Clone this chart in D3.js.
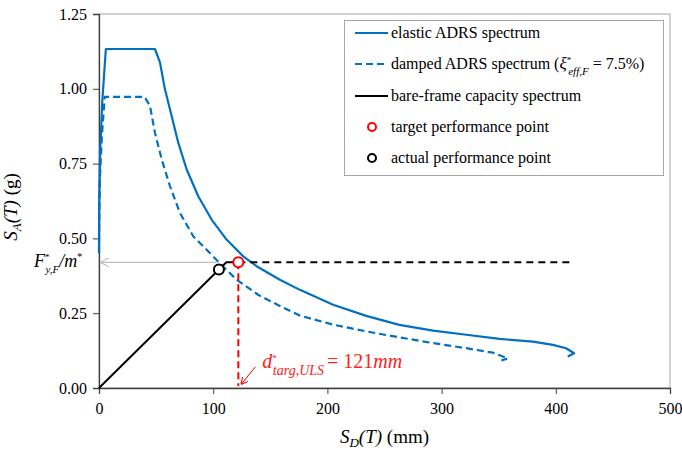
<!DOCTYPE html>
<html>
<head>
<meta charset="utf-8">
<script src="https://cdn.jsdelivr.net/npm/d3@7"></script>
<style>
  body { margin: 0; background: #fff; }
  text { font-family: "Liberation Serif", "Times New Roman", serif; }
</style>
</head>
<body>
<div class="canvas"></div>
<script>
// elastic ADRS spectrum (Sd in mm, Sa in g)
const elasticSd = [0, 0.2, 1.0, 2.9, 6, 49, 53.4, 57.7, 63.6, 69.4, 76.7, 86.9, 98.6, 111.7, 126.3, 138, 158.4, 175.9, 205, 234, 263, 292.5, 321.7, 350.8, 380, 397.5, 409, 416, 410.5];
const elasticSa = [0.45, 0.62, 0.79, 0.96, 1.133, 1.133, 1.088, 0.999, 0.909, 0.82, 0.731, 0.641, 0.563, 0.496, 0.44, 0.407, 0.362, 0.328, 0.278, 0.241, 0.211, 0.192, 0.178, 0.164, 0.155, 0.144, 0.133, 0.116, 0.105];

// damped ADRS spectrum
const dampedSd = [0, 0.2, 0.9, 2.5, 5, 40, 44.6, 49, 54.9, 62.1, 70.9, 82.5, 97.1, 108.7, 120.5, 140, 158, 176.7, 205.9, 234.2, 263.4, 292.6, 321.7, 345, 353.7, 358, 352.3];
const dampedSa = [0.45, 0.58, 0.71, 0.84, 0.973, 0.973, 0.943, 0.853, 0.764, 0.675, 0.585, 0.507, 0.451, 0.406, 0.362, 0.31, 0.275, 0.241, 0.211, 0.189, 0.169, 0.15, 0.133, 0.118, 0.105, 0.099, 0.092];

// bare-frame capacity spectrum
const capacitySd = [0, 111.5, 122];
const capacitySa = [0, 0.42, 0.42];

const targetPoint = [122, 0.42];
const actualPoint = [105, 0.396];
const demandLineEnd = 415;

const xTicks = [0, 100, 200, 300, 400, 500];
const yTicks = [0, 0.25, 0.5, 0.75, 1.0, 1.25];

const blue = "#0070c0";
const margin = { top: 14, right: 12, bottom: 62, left: 99 };
const width = 682 - margin.left - margin.right;
const height = 450 - margin.top - margin.bottom;

const svgRoot = d3
  .select(".canvas")
  .append("svg")
  .attr("width", 682)
  .attr("height", 450);

const defs = svgRoot.append("defs");
defs.append("marker")
  .attr("id", "grayArrow")
  .attr("viewBox", "0 0 10 10")
  .attr("refX", 9).attr("refY", 5)
  .attr("markerWidth", 9).attr("markerHeight", 9)
  .attr("markerUnits", "userSpaceOnUse")
  .attr("orient", "auto")
  .append("path")
  .attr("d", "M0,0 L10,5 L0,10")
  .attr("fill", "none")
  .attr("stroke", "#bfbfbf")
  .attr("stroke-width", 1.2);
defs.append("marker")
  .attr("id", "redArrow")
  .attr("viewBox", "0 0 10 10")
  .attr("refX", 9).attr("refY", 5)
  .attr("markerWidth", 7).attr("markerHeight", 7)
  .attr("markerUnits", "userSpaceOnUse")
  .attr("orient", "auto")
  .append("path")
  .attr("d", "M0,0 L10,5 L0,10")
  .attr("fill", "none")
  .attr("stroke", "red")
  .attr("stroke-width", 1.5);

const svg = svgRoot
  .append("g")
  .attr("transform", `translate(${margin.left},${margin.top})`);

const x = d3.scaleLinear().domain([0, 500]).range([0, width]);
const y = d3.scaleLinear().domain([0, 1.25]).range([height, 0]);

// frame (top and right)
svg.append("rect")
  .attr("width", width)
  .attr("height", height)
  .attr("fill", "none")
  .attr("stroke", "#a6a6a6")
  .attr("stroke-width", 1);

// axes
const xAxis = svg.append("g")
  .attr("transform", `translate(0, ${height})`)
  .call(d3.axisBottom(x).tickValues(xTicks).tickSize(6).tickPadding(9).tickFormat(d3.format("d")));
const yAxis = svg.append("g")
  .call(d3.axisLeft(y).tickValues(yTicks).tickSize(6).tickPadding(6).tickFormat(d3.format(".2f")));
[xAxis, yAxis].forEach((a) => {
  a.attr("font-family", null);
  a.select(".domain").attr("stroke", "#404040").attr("stroke-width", 1.3);
  a.selectAll(".tick line").attr("stroke", "#404040");
  a.selectAll(".tick text")
    .attr("font-size", 16)
    .attr("fill", "#000");
});

const line = d3.line().x((d) => x(d[0])).y((d) => y(d[1]));
const zip = (a, b) => a.map((v, i) => [v, b[i]]);

// gray arrow to Fy/m*
svg.append("line")
  .attr("x1", x(actualPoint[0]) - 2)
  .attr("x2", 2)
  .attr("y1", y(targetPoint[1]))
  .attr("y2", y(targetPoint[1]))
  .attr("stroke", "#bfbfbf")
  .attr("stroke-width", 1.3)
  .attr("marker-end", "url(#grayArrow)");

// spectra
svg.append("path")
  .datum(zip(elasticSd, elasticSa))
  .attr("d", line)
  .attr("fill", "none")
  .attr("stroke", blue)
  .attr("stroke-width", 2.2)
  .attr("stroke-linejoin", "round");
svg.append("path")
  .datum(zip(dampedSd, dampedSa))
  .attr("d", line)
  .attr("fill", "none")
  .attr("stroke", blue)
  .attr("stroke-width", 2.2)
  .attr("stroke-dasharray", "7,4")
  .attr("stroke-linejoin", "round");

// demand level dashed line
svg.append("line")
  .attr("x1", x(targetPoint[0]))
  .attr("x2", x(demandLineEnd))
  .attr("y1", y(targetPoint[1]))
  .attr("y2", y(targetPoint[1]))
  .attr("stroke", "#000")
  .attr("stroke-width", 2)
  .attr("stroke-dasharray", "7,5");

// red vertical to target displacement
svg.append("line")
  .attr("x1", x(targetPoint[0]))
  .attr("x2", x(targetPoint[0]))
  .attr("y1", y(targetPoint[1]))
  .attr("y2", y(0) - 2)
  .attr("stroke", "red")
  .attr("stroke-width", 2)
  .attr("stroke-dasharray", "7,4");

// capacity
svg.append("path")
  .datum(zip(capacitySd, capacitySa))
  .attr("d", line)
  .attr("fill", "none")
  .attr("stroke", "#000")
  .attr("stroke-width", 2);

svg.append("circle")
  .attr("cx", x(targetPoint[0]))
  .attr("cy", y(targetPoint[1]))
  .attr("r", 5)
  .attr("fill", "#fff")
  .attr("stroke", "red")
  .attr("stroke-width", 2);
svg.append("circle")
  .attr("cx", x(actualPoint[0]))
  .attr("cy", y(actualPoint[1]))
  .attr("r", 5)
  .attr("fill", "#fff")
  .attr("stroke", "#000")
  .attr("stroke-width", 2);

// d*targ annotation
svg.append("line")
  .attr("x1", x(targetPoint[0]) + 17)
  .attr("y1", y(0) - 21)
  .attr("x2", x(targetPoint[0]) + 3)
  .attr("y2", y(0) - 4)
  .attr("stroke", "red")
  .attr("stroke-width", 1)
  .attr("marker-end", "url(#redArrow)");

const dLabel = svg.append("text")
  .attr("x", x(targetPoint[0]) + 24)
  .attr("y", y(0) - 20)
  .attr("fill", "#ff2020")
  .attr("font-size", 20);
dLabel.append("tspan").attr("font-style", "italic").text("d");
dLabel.append("tspan").attr("font-size", 9).attr("dy", -7).text("*");
dLabel.append("tspan").attr("font-size", 14).attr("font-style", "italic").attr("dx", -4).attr("dy", 14).text("targ,ULS");
dLabel.append("tspan").attr("dx", 3).attr("dy", -7).text("= 121");
dLabel.append("tspan").attr("font-style", "italic").text("mm");

// Fy/m* label
const fLabel = svgRoot.append("text")
  .attr("x", 34)
  .attr("y", margin.top + y(targetPoint[1]) + 5)
  .attr("font-size", 18)
  .attr("fill", "#000");
fLabel.append("tspan").attr("font-style", "italic").text("F");
fLabel.append("tspan").attr("font-size", 9).attr("dy", -7).text("*");
fLabel.append("tspan").attr("font-size", 11).attr("font-style", "italic").attr("dx", -4).attr("dy", 13).text("y,F");
fLabel.append("tspan").attr("font-style", "italic").attr("dy", -6).text("/m");
fLabel.append("tspan").attr("font-size", 10).attr("dy", -7).text("*");

// axis titles
const xTitle = svgRoot.append("text")
  .attr("x", margin.left + width / 2)
  .attr("y", 443)
  .attr("text-anchor", "middle")
  .attr("font-size", 19);
xTitle.append("tspan").attr("font-style", "italic").text("S");
xTitle.append("tspan").attr("font-style", "italic").attr("font-size", 13).attr("dy", 4).text("D");
xTitle.append("tspan").attr("font-style", "italic").attr("dy", -4).text("(T)");
xTitle.append("tspan").text(" (mm)");

const yTitle = svgRoot.append("text")
  .attr("transform", `translate(17, ${margin.top + height / 2 + 6}) rotate(-90)`)
  .attr("text-anchor", "middle")
  .attr("font-size", 19);
yTitle.append("tspan").attr("font-style", "italic").text("S");
yTitle.append("tspan").attr("font-style", "italic").attr("font-size", 13).attr("dy", 4).text("A");
yTitle.append("tspan").attr("font-style", "italic").attr("dy", -4).text("(T)");
yTitle.append("tspan").text(" (g)");

// legend
const legend = svgRoot.append("g");
legend.append("rect")
  .attr("x", 344.5).attr("y", 20.5)
  .attr("width", 319).attr("height", 155)
  .attr("fill", "#fff")
  .attr("stroke", "#a6a6a6");

const legendRows = [33, 64, 96, 127, 158];
const legendText = (row) =>
  legend.append("text").attr("x", 391).attr("y", legendRows[row] + 5).attr("font-size", 16);

legend.append("line").attr("x1", 355).attr("x2", 388).attr("y1", legendRows[0]).attr("y2", legendRows[0])
  .attr("stroke", blue).attr("stroke-width", 2);
legendText(0).text("elastic ADRS spectrum");

legend.append("line").attr("x1", 355).attr("x2", 388).attr("y1", legendRows[1]).attr("y2", legendRows[1])
  .attr("stroke", blue).attr("stroke-width", 2).attr("stroke-dasharray", "7,4");
const t1 = legendText(1);
t1.append("tspan").text("damped ADRS spectrum (");
t1.append("tspan").attr("font-style", "italic").attr("font-size", 17).text("ξ");
t1.append("tspan").attr("font-size", 9).attr("dy", -6).text("*");
t1.append("tspan").attr("font-size", 11).attr("font-style", "italic").attr("dx", -3).attr("dy", 12).text("eff,F");
t1.append("tspan").attr("dx", 4).attr("dy", -6).text("= 7.5%)");

legend.append("line").attr("x1", 355).attr("x2", 388).attr("y1", legendRows[2]).attr("y2", legendRows[2])
  .attr("stroke", "#000").attr("stroke-width", 2);
legendText(2).text("bare-frame capacity spectrum");

legend.append("circle").attr("cx", 372).attr("cy", legendRows[3]).attr("r", 4)
  .attr("fill", "#fff").attr("stroke", "red").attr("stroke-width", 2);
legendText(3).text("target performance point");

legend.append("circle").attr("cx", 372).attr("cy", legendRows[4]).attr("r", 4)
  .attr("fill", "#fff").attr("stroke", "#000").attr("stroke-width", 2);
legendText(4).text("actual performance point");
</script>
</body>
</html>
